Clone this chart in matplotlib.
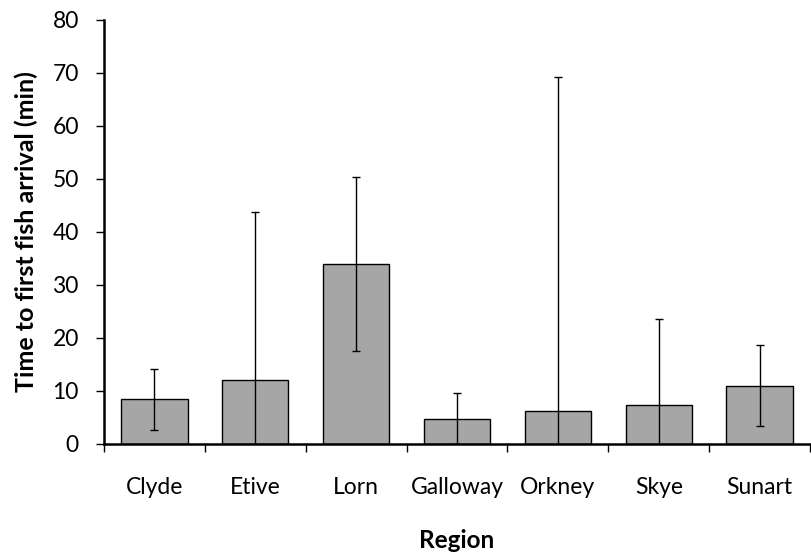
import matplotlib
matplotlib.use("Agg")
import matplotlib.pyplot as plt
import numpy as np

# data
regions = ["Clyde", "Etive", "Lorn", "Galloway", "Orkney", "Skye", "Sunart"]
mean_time = [8.4, 12.0, 34.0, 4.8, 6.2, 7.4, 11.0]
err_time = [5.8, 31.8, 16.4, 4.8, 63.1, 16.2, 7.6]
y_ticks = [0, 10, 20, 30, 40, 50, 60, 70, 80]

plt.rcParams['font.family'] = ['Lato', 'DejaVu Sans']

fig = plt.figure(figsize=(8.11, 5.54), dpi=100)
ax = fig.add_axes([0.128, 0.1986, 0.871, 0.7654])

x = np.arange(len(regions))
ax.bar(x, mean_time, width=0.66, color="#a6a6a6", edgecolor="black", linewidth=1.0,
       yerr=err_time, capsize=3,
       error_kw=dict(ecolor="black", elinewidth=1.0, capthick=1.0))

ax.set_xlim(-0.5, len(regions) - 0.5)
ax.set_ylim(0, 80)
ax.set_yticks(y_ticks)
ax.tick_params(axis="y", direction="out", length=6, width=1, labelsize=16.5, pad=12)

# category ticks sit between the bars, labels under the bars
ax.set_xticks(np.arange(len(regions) + 1) - 0.5)
ax.set_xticklabels([])
ax.set_xticks(x, minor=True)
ax.set_xticklabels(regions, minor=True, fontsize=16.5)
ax.tick_params(axis="x", which="major", direction="out", length=6, width=1)
ax.tick_params(axis="x", which="minor", length=0, pad=24)

for side in ["top", "right"]:
    ax.spines[side].set_visible(False)
ax.spines["left"].set_linewidth(1.8)
ax.spines["bottom"].set_linewidth(1.8)

ax.set_ylabel("Time to first fish arrival (min)", fontsize=18, fontweight="bold", labelpad=10)
ax.set_xlabel("Region", fontsize=17.5, fontweight="bold", labelpad=22)

fig.savefig("out.png", dpi=100)
